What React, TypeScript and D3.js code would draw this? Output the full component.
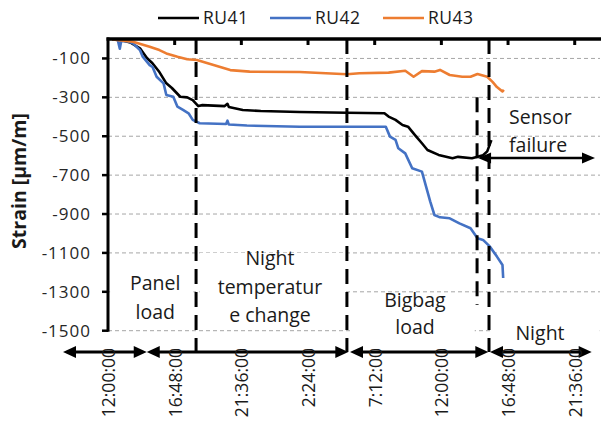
import React from 'react';
import * as d3 from 'd3';

// Strain gauge readings: [hours since 12:00 on day 1, strain in µm/m]
const RU41: [number, number][] = [
  [0.3, -2], [1.0, -6], [1.6, -18], [2.3, -48], [2.8, -98], [3.2, -125], [3.7, -170],
  [4.2, -228], [4.6, -252], [5.2, -297], [5.7, -300], [6.1, -314], [6.5, -345], [6.8, -340],
  [8.4, -345], [8.6, -333], [8.7, -350], [9.7, -365], [11.0, -370], [13.8, -375], [17.2, -379],
  [19.9, -382], [20.2, -399], [20.7, -416], [21.2, -442], [21.6, -451], [22.1, -494],
  [22.6, -536], [23.0, -571], [23.8, -596], [24.8, -613], [25.2, -606], [26.2, -613],
  [26.6, -606], [27.0, -598], [27.3, -578], [27.6, -520],
];

const RU42: [number, number][] = [
  [0.3, -2], [0.7, -4], [0.85, -50], [0.95, -10], [1.4, -12], [1.8, -22], [2.3, -57],
  [2.5, -91], [3.0, -134], [3.2, -143], [3.5, -194], [4.0, -228], [4.2, -288], [4.7, -297],
  [5.0, -348], [5.4, -365], [5.8, -382], [6.1, -416], [6.6, -433], [8.5, -437], [8.6, -420],
  [8.7, -440], [10.0, -445], [13.8, -451], [20.0, -451], [20.3, -502], [20.7, -519],
  [20.9, -562], [21.4, -588], [21.9, -665], [22.6, -682], [23.0, -785], [23.2, -836],
  [23.5, -905], [23.9, -917], [24.6, -922], [25.3, -948], [26.1, -973], [26.6, -1025],
  [27.0, -1033], [27.5, -1068], [28.0, -1119], [28.4, -1162], [28.45, -1229],
];

const RU43: [number, number][] = [
  [0.3, -2], [1.8, -14], [3.0, -40], [3.7, -57], [4.2, -74], [5.0, -91], [5.7, -104],
  [6.4, -108], [7.6, -134], [8.8, -160], [10.2, -168], [13.8, -170], [17.2, -181],
  [18.1, -176], [20.2, -173], [21.4, -163], [22.0, -194], [22.6, -165], [23.5, -168],
  [23.9, -159], [24.6, -185], [25.5, -194], [26.1, -194], [26.6, -180], [27.3, -194],
  [27.7, -222], [28.0, -247], [28.4, -270], [28.5, -262],
];

const SERIES_NAMES = ['RU41', 'RU42', 'RU43'];
const SERIES_COLORS = ['#000000', '#4472C4', '#ED7D31'];

// Time axis: one tick every 4.8 hours
const X_TICK_HOURS = [0, 4.8, 9.6, 14.4, 19.2, 24, 28.8, 33.6];
const X_TICK_LABELS = ['12:00:00', '16:48:00', '21:36:00', '2:24:00', '7:12:00', '12:00:00', '16:48:00', '21:36:00'];
const Y_TICKS = [-100, -300, -500, -700, -900, -1100, -1300, -1500];

// Phase boundaries (hours) drawn as dashed verticals
const PHASE_LINES: { at: number; from: number; to: number | null }[] = [
  { at: 6.34, from: 0, to: null },
  { at: 17.2, from: 0, to: null },
  { at: 26.57, from: -300, to: -1368 },
  { at: 27.43, from: 0, to: null },
];

// Double-headed arrows along the time line (hours)
const PHASE_ARROWS: [number, number][] = [
  [-3.24, 2.79],
  [2.79, 17.3],
  [17.42, 27.38],
  [27.5, 34.82],
];

const FONT = '"Open Sans", sans-serif';

export default function App() {
  const width = 601;
  const height = 422;
  const left = 108;
  const right = 600;
  const top = 39;
  const bottom = 330.7;
  const timeLineY = 352;

  const x = d3.scaleLinear().domain([0, 35.42]).range([left, right]);
  const y = d3.scaleLinear().domain([-1500, 0]).range([bottom, top]);

  const line = d3
    .line<[number, number]>()
    .x((d) => x(d[0]))
    .y((d) => y(d[1]));

  const seriesData = [RU41, RU42, RU43];

  const arrowHead = (tipX: number, tipY: number, dir: 1 | -1, len = 13, half = 6) =>
    `M${tipX},${tipY} L${tipX - dir * len},${tipY - half} L${tipX - dir * len},${tipY + half} Z`;

  const textProps = { fontFamily: FONT, fontSize: 19.5, fill: '#1a1a1a', textAnchor: 'middle' as const };

  return (
    <svg
      width={width}
      height={height}
      style={{ position: 'absolute', left: 0, top: 0, background: '#fff' }}
    >
      <rect x={0} y={0} width={width} height={height} fill="#fff" />

      {/* horizontal gridlines */}
      {Y_TICKS.map((t) => (
        <line
          key={`g${t}`}
          x1={left}
          x2={right}
          y1={y(t)}
          y2={y(t)}
          stroke="#a6a6a6"
          strokeWidth={1}
          strokeDasharray="4 3"
        />
      ))}

      {/* white text boxes over the grid */}
      <rect x={x(0.15)} y={y(-1160)} width={x(6.15) - x(0.15)} height={y(-1490) - y(-1160)} fill="#fff" />
      <rect x={x(6.6)} y={y(-1100)} width={x(17.0) - x(6.6)} height={y(-1490) - y(-1100)} fill="#fff" />
      <rect x={x(17.45)} y={y(-1310)} width={x(26.4) - x(17.45)} height={y(-1570) - y(-1310)} fill="#fff" />
      <rect x={x(27.6)} y={y(-1430)} width={x(35.4) - x(27.6)} height={y(-1580) - y(-1430)} fill="#fff" />

      {/* series */}
      {seriesData.map((d, i) => (
        <path
          key={SERIES_NAMES[i]}
          d={line(d) || ''}
          fill="none"
          stroke={SERIES_COLORS[i]}
          strokeWidth={2.6}
          strokeLinejoin="round"
        />
      ))}

      {/* axes */}
      <line x1={left} x2={left} y1={top - 1.5} y2={bottom + 1} stroke="#000" strokeWidth={3} />
      <line x1={left - 1.5} x2={width} y1={top} y2={top} stroke="#000" strokeWidth={3.5} />
      {X_TICK_HOURS.slice(1).map((h) => (
        <line key={`xt${h}`} x1={x(h)} x2={x(h)} y1={top} y2={top + 6} stroke="#000" strokeWidth={3} />
      ))}
      {Y_TICKS.map((t) => (
        <line key={`yt${t}`} x1={left - 6} x2={left} y1={y(t)} y2={y(t)} stroke="#000" strokeWidth={2.5} />
      ))}
      {Y_TICKS.map((t) => (
        <text
          key={`yl${t}`}
          x={91}
          y={y(t)}
          dy="0.35em"
          fontFamily={FONT}
          fontSize={17}
          letterSpacing={1}
          fill="#262626"
          textAnchor="end"
        >
          {t}
        </text>
      ))}

      {/* phase boundaries */}
      {PHASE_LINES.map((p) => (
        <line
          key={`p${p.at}`}
          x1={x(p.at)}
          x2={x(p.at)}
          y1={y(p.from)}
          y2={p.to === null ? timeLineY : y(p.to)}
          stroke="#000"
          strokeWidth={3}
          strokeDasharray="15 8"
        />
      ))}

      {/* time line with phase arrows */}
      {PHASE_ARROWS.map(([a, b], i) => (
        <g key={`pa${i}`}>
          <line x1={x(a) + 6} x2={x(b) - 6} y1={timeLineY} y2={timeLineY} stroke="#000" strokeWidth={3} />
          <path d={arrowHead(x(a), timeLineY, -1)} fill="#000" />
          <path d={arrowHead(x(b), timeLineY, 1)} fill="#000" />
        </g>
      ))}

      {/* time labels */}
      {X_TICK_HOURS.map((h, i) => (
        <text
          key={`xl${i}`}
          transform={`translate(${x(h) + 7},${timeLineY - 4}) rotate(-90)`}
          fontFamily={FONT}
          fontSize={17.5}
          fill="#1a1a1a"
          textAnchor="end"
        >
          {X_TICK_LABELS[i]}
        </text>
      ))}

      {/* sensor failure arrow */}
      <line x1={x(26.64) + 6} x2={x(35.06) - 6} y1={y(-612)} y2={y(-612)} stroke="#000" strokeWidth={2.5} />
      <path d={arrowHead(x(26.64), y(-612), -1, 13, 5.5)} fill="#000" />
      <path d={arrowHead(x(35.06), y(-612), 1, 13, 5.5)} fill="#000" />

      {/* phase annotations */}
      <text {...textProps} x={x(3.4)} y={y(-1254)} dy="0.35em">Panel</text>
      <text {...textProps} x={x(3.4)} y={y(-1404)} dy="0.35em">load</text>
      <text {...textProps} x={x(11.66)} y={y(-1126)} dy="0.35em">Night</text>
      <text {...textProps} x={x(11.66)} y={y(-1275)} dy="0.35em">temperatur</text>
      <text {...textProps} x={x(11.66)} y={y(-1419)} dy="0.35em">e change</text>
      <text {...textProps} x={x(22.1)} y={y(-1342)} dy="0.35em">Bigbag</text>
      <text {...textProps} x={x(22.1)} y={y(-1481)} dy="0.35em">load</text>
      <text {...textProps} x={x(31.1)} y={y(-1512)} dy="0.35em">Night</text>
      <text {...textProps} textAnchor="start" x={x(28.87)} y={y(-401)} dy="0.35em">Sensor</text>
      <text {...textProps} textAnchor="start" x={x(28.87)} y={y(-545)} dy="0.35em">failure</text>

      {/* y axis title */}
      <text
        transform={`translate(26,181) rotate(-90)`}
        fontFamily={FONT}
        fontSize={19.5}
        fontWeight="bold"
        fill="#1a1a1a"
        textAnchor="middle"
      >
        Strain [µm/m]
      </text>

      {/* legend */}
      {SERIES_NAMES.map((name, i) => {
        const lx = [158, 270, 383][i];
        return (
          <g key={`lg${name}`}>
            <line x1={lx} x2={lx + 41} y1={18} y2={18} stroke={SERIES_COLORS[i]} strokeWidth={2.6} />
            <text
              x={lx + 45}
              y={18}
              dy="0.35em"
              fontFamily={FONT}
              fontSize={17.5}
              letterSpacing={0.5}
              fill="#1a1a1a"
            >
              {name}
            </text>
          </g>
        );
      })}
    </svg>
  );
}
